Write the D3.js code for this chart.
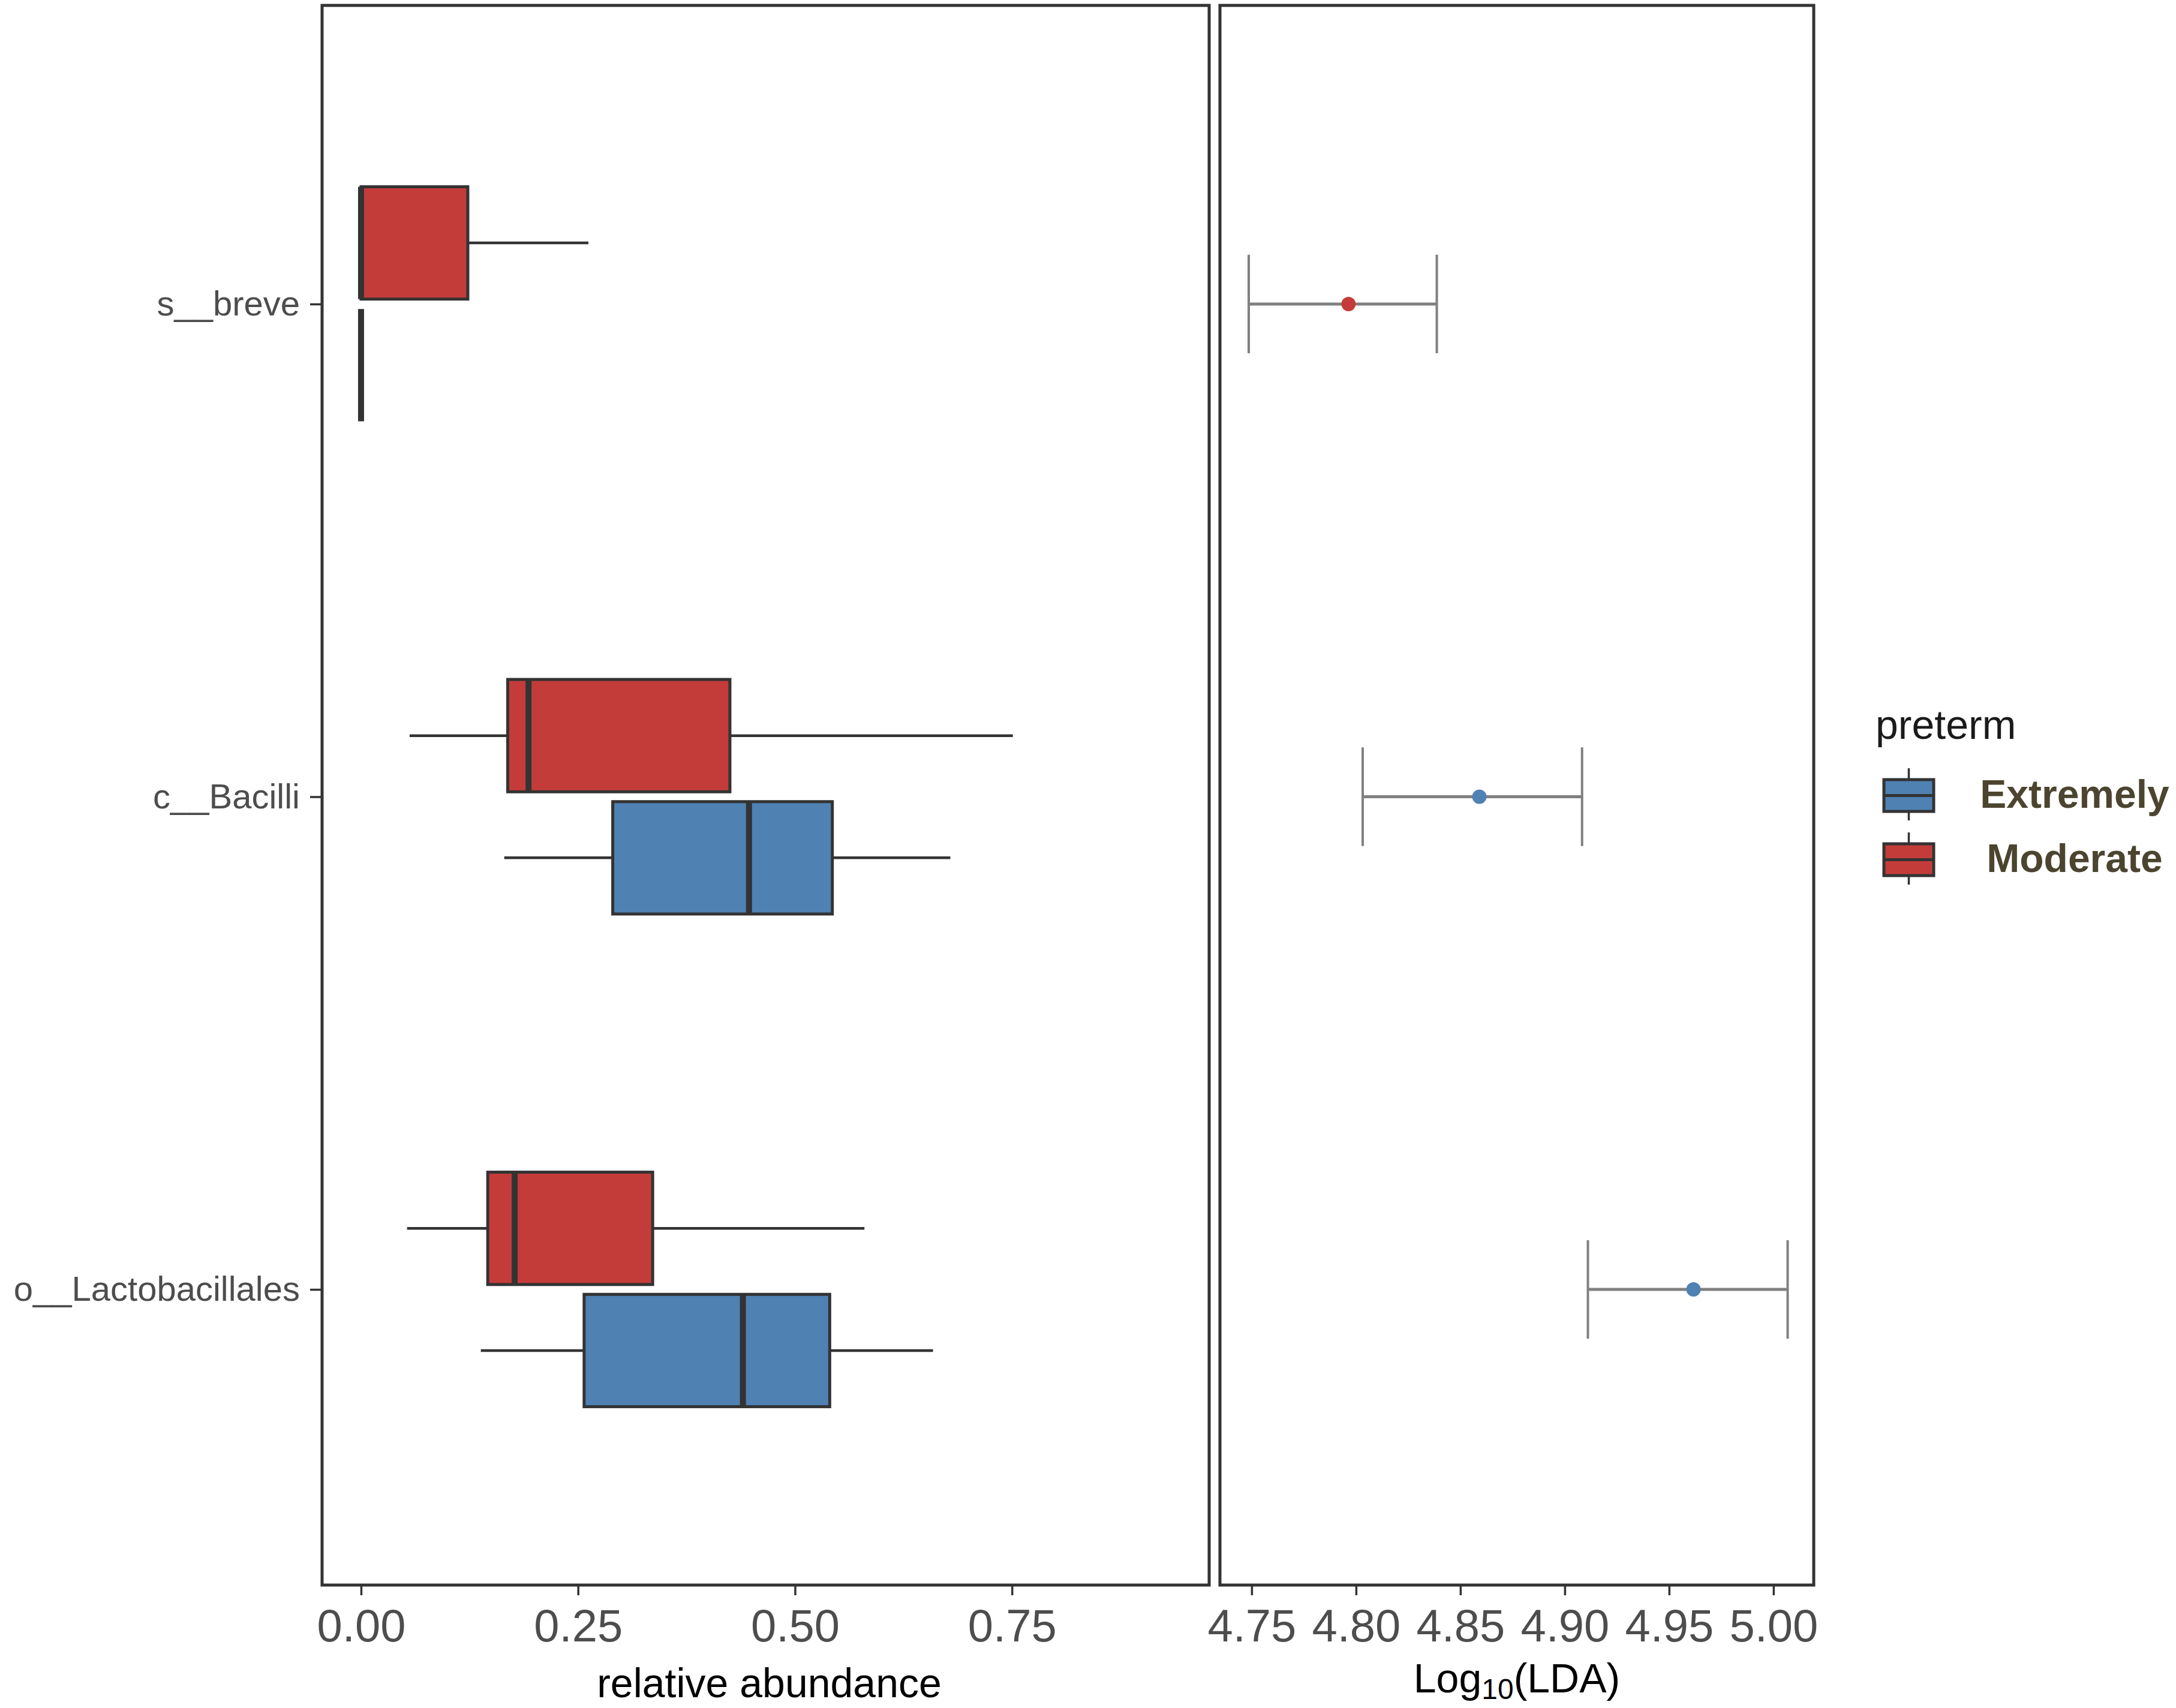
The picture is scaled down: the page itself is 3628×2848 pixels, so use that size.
<!DOCTYPE html>
<html>
<head>
<meta charset="utf-8">
<script src="https://cdn.jsdelivr.net/npm/d3@7"></script>
<style>
  body { margin: 0; background: #fff; }
  text { font-family: "Liberation Sans", Arial, sans-serif; }
</style>
</head>
<body>
<div id="chart"></div>
<script>
// categories (top to bottom after flip)
const taxa = ["s__breve", "c__Bacilli", "o__Lactobacillales"];
const groups = ["Extremely", "Moderate"];
const groupColors = ["#4F81B3", "#C43C3A"];

// relative abundance box stats, Moderate group
const modMin = [0, 0.056, 0.053];
const modQ1 = [0, 0.169, 0.146];
const modMed = [0, 0.193, 0.177];
const modQ3 = [0.123, 0.425, 0.336];
const modMax = [0.262, 0.751, 0.580];
// Extremely group
const extMin = [0, 0.165, 0.138];
const extQ1 = [0, 0.290, 0.257];
const extMed = [0, 0.447, 0.440];
const extQ3 = [0, 0.543, 0.540];
const extMax = [0, 0.679, 0.659];

// LDA scores
const ldaGroup = ["Moderate", "Extremely", "Extremely"];
const ldaMean = [4.7964, 4.8591, 4.9617];
const ldaLow = [4.7486, 4.8032, 4.9111];
const ldaHigh = [4.8387, 4.9083, 5.0068];

const leftTicks = [0, 0.25, 0.5, 0.75];
const rightTicks = [4.75, 4.80, 4.85, 4.90, 4.95, 5.00];

const W = 3628, H = 2848;
const panelTop = 9, panelBottom = 2643;
const p1 = {x0: 537, x1: 2016};
const p2 = {x0: 2034, x1: 3024};

const svg = d3.select("#chart").append("svg")
  .attr("width", W).attr("height", H);

// scales
const y = d3.scalePoint().domain(taxa).range([14, panelBottom]).padding(0.6);
const step = y.step();
const x1 = d3.scaleLinear().domain([-0.0449, 0.9772]).range([p1.x0, p1.x1]);
const x2 = d3.scaleLinear().domain([4.7348, 5.0193]).range([p2.x0, p2.x1]);
const color = d3.scaleOrdinal().domain(groups).range(groupColors);

// build box rows
const boxes = [];
taxa.forEach((t, i) => {
  boxes.push({taxon: t, group: "Moderate", off: -0.124, min: modMin[i], q1: modQ1[i], med: modMed[i], q3: modQ3[i], max: modMax[i]});
  boxes.push({taxon: t, group: "Extremely", off: 0.124, min: extMin[i], q1: extQ1[i], med: extMed[i], q3: extQ3[i], max: extMax[i]});
});
const halfBox = 0.114 * step;

// left panel
const g1 = svg.append("g");
const bx = g1.selectAll("g.box").data(boxes).enter().append("g");
bx.each(function(d) {
  const g = d3.select(this);
  const cy = y(d.taxon) + d.off * step;
  g.append("line")
    .attr("x1", x1(d.min)).attr("x2", x1(d.q1)).attr("y1", cy).attr("y2", cy)
    .attr("stroke", "#333").attr("stroke-width", 4.5);
  g.append("line")
    .attr("x1", x1(d.q3)).attr("x2", x1(d.max)).attr("y1", cy).attr("y2", cy)
    .attr("stroke", "#333").attr("stroke-width", 4.5);
  g.append("rect")
    .attr("x", x1(d.q1)).attr("width", x1(d.q3) - x1(d.q1))
    .attr("y", cy - halfBox).attr("height", 2 * halfBox)
    .attr("fill", color(d.group)).attr("stroke", "#333").attr("stroke-width", 5);
  g.append("line")
    .attr("x1", x1(d.med)).attr("x2", x1(d.med))
    .attr("y1", cy - halfBox).attr("y2", cy + halfBox)
    .attr("stroke", "#333").attr("stroke-width", 10);
});

g1.append("rect")
  .attr("x", p1.x0).attr("y", panelTop)
  .attr("width", p1.x1 - p1.x0).attr("height", panelBottom - panelTop)
  .attr("fill", "none").attr("stroke", "#333").attr("stroke-width", 5);

// axes
function styleAxis(sel, fs) {
  sel.select(".domain").remove();
  sel.selectAll(".tick line").attr("stroke", "#333").attr("stroke-width", 3.5);
  sel.selectAll(".tick text").attr("fill", "#4D4D4D").style("font-size", fs + "px");
}
svg.append("g").attr("transform", `translate(0,${panelBottom})`)
  .call(d3.axisBottom(x1).tickValues(leftTicks).tickFormat(d3.format(".2f")).tickSize(17).tickPadding(23))
  .call(s => styleAxis(s, 76));
svg.append("g").attr("transform", `translate(${p1.x0},0)`)
  .call(d3.axisLeft(y).tickSize(20).tickPadding(17))
  .call(s => styleAxis(s, 58));

// right panel
const g2 = svg.append("g");
const lda = taxa.map((t, i) => ({taxon: t, group: ldaGroup[i], mean: ldaMean[i], lo: ldaLow[i], hi: ldaHigh[i]}));
const capH = 0.1 * step;
const eb = g2.selectAll("g.eb").data(lda).enter().append("g");
eb.append("line")
  .attr("x1", d => x2(d.lo)).attr("x2", d => x2(d.hi))
  .attr("y1", d => y(d.taxon)).attr("y2", d => y(d.taxon))
  .attr("stroke", "#808080").attr("stroke-width", 5);
eb.append("line")
  .attr("x1", d => x2(d.lo)).attr("x2", d => x2(d.lo))
  .attr("y1", d => y(d.taxon) - capH).attr("y2", d => y(d.taxon) + capH)
  .attr("stroke", "#808080").attr("stroke-width", 4);
eb.append("line")
  .attr("x1", d => x2(d.hi)).attr("x2", d => x2(d.hi))
  .attr("y1", d => y(d.taxon) - capH).attr("y2", d => y(d.taxon) + capH)
  .attr("stroke", "#808080").attr("stroke-width", 4);
eb.append("circle")
  .attr("cx", d => x2(d.mean)).attr("cy", d => y(d.taxon)).attr("r", 12)
  .attr("fill", d => color(d.group));

g2.append("rect")
  .attr("x", p2.x0).attr("y", panelTop)
  .attr("width", p2.x1 - p2.x0).attr("height", panelBottom - panelTop)
  .attr("fill", "none").attr("stroke", "#333").attr("stroke-width", 5);

svg.append("g").attr("transform", `translate(0,${panelBottom})`)
  .call(d3.axisBottom(x2).tickValues(rightTicks).tickFormat(d3.format(".2f")).tickSize(17).tickPadding(23))
  .call(s => styleAxis(s, 76));

// axis titles
svg.append("text")
  .attr("x", (p1.x0 + p1.x1) / 2 + 6).attr("y", 2830)
  .attr("text-anchor", "middle").style("font-size", "68px").attr("fill", "#000")
  .text("relative abundance");
const t2 = svg.append("text")
  .attr("x", (p2.x0 + p2.x1) / 2).attr("y", 2822)
  .attr("text-anchor", "middle").style("font-size", "68px").attr("fill", "#000");
t2.append("tspan").text("Log");
t2.append("tspan").attr("dy", 11).style("font-size", "48px").text("10");
t2.append("tspan").attr("dy", -11).text("(LDA)");

// legend
const lg = svg.append("g");
lg.append("text").attr("x", 3127).attr("y", 1232)
  .style("font-size", "68px").attr("fill", "#1a1a1a").text("preterm");
const keyTop = [1300, 1407];
groups.forEach((gname, i) => {
  const top = keyTop[i], kh = 53, kx = 3141, kw = 83, cx = kx + kw / 2;
  lg.append("line").attr("x1", cx).attr("x2", cx).attr("y1", top - 19).attr("y2", top + kh + 15)
    .attr("stroke", "#333").attr("stroke-width", 3.5);
  lg.append("rect").attr("x", kx).attr("y", top).attr("width", kw).attr("height", kh)
    .attr("fill", color(gname)).attr("stroke", "#333").attr("stroke-width", 5);
  lg.append("line").attr("x1", kx).attr("x2", kx + kw).attr("y1", top + kh / 2).attr("y2", top + kh / 2)
    .attr("stroke", "#333").attr("stroke-width", 5);
  lg.append("text").attr("x", 3459).attr("y", top + 47)
    .attr("text-anchor", "middle").style("font-size", "66px").style("font-weight", "bold")
    .attr("fill", "#4B4530").text(gname);
});
</script>
</body>
</html>
